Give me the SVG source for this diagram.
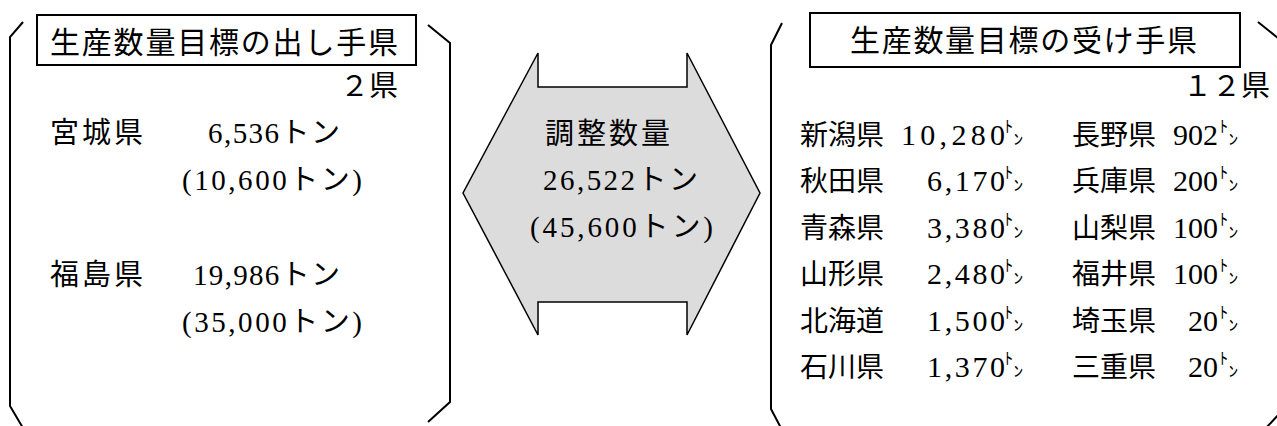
<svg xmlns="http://www.w3.org/2000/svg" width="1277" height="426" viewBox="0 0 1277 426">
<style>
text{font-family:"Liberation Serif","Noto Sans CJK JP",serif;fill:#000;font-size:29px}
.t{font-size:30px}
.r{font-size:28px}
.n{font-size:30px;text-anchor:end}
.br{fill:none;stroke:#000;stroke-width:2}
.box{fill:#fff;stroke:#000;stroke-width:2}
.ar{fill:#dcdcdc;stroke:#000;stroke-width:1.5;stroke-linejoin:miter}
.e{text-anchor:end}
.ton{font-family:"Noto Sans CJK JP",sans-serif;font-size:32px}
</style>
<rect width="1277" height="426" fill="#fff"/>
<g id="senders">
<path class="br" d="M23,22 L10,37 L10,406 L23,428"/>
<path class="br" d="M428,25 L450,43 L450,402 L428,422"/>
<rect class="box" x="37" y="15" width="379" height="50"/>
<text class="t" x="50" y="53" textLength="348" lengthAdjust="spacing">生産数量目標の出し手県</text>
<text class="e" x="398" y="96">２県</text>
<text x="50" y="143" textLength="93" lengthAdjust="spacing">宮城県</text>
<text x="208" y="143" textLength="132" lengthAdjust="spacing">6,536トン</text>
<text x="182" y="190" textLength="180" lengthAdjust="spacing">(10,600トン)</text>
<text x="50" y="285" textLength="93" lengthAdjust="spacing">福島県</text>
<text x="193" y="285" textLength="147" lengthAdjust="spacing">19,986トン</text>
<text x="182" y="332" textLength="180" lengthAdjust="spacing">(35,000トン)</text>
</g>
<g id="adjust">
<polygon class="ar" points="538,53 538,87 687,87 687,53 760,193 687,335 687,302 538,302 538,335 463,193"/>
<text x="545" y="144" textLength="125" lengthAdjust="spacing">調整数量</text>
<text x="543" y="190" textLength="155" lengthAdjust="spacing">26,522トン</text>
<text x="530" y="237" textLength="183" lengthAdjust="spacing">(45,600トン)</text>
</g>
<g id="receivers">
<path class="br" d="M782,23 L771,45 L771,409 L781,428"/>
<path class="br" d="M1258,22 L1283,42 L1283,410 L1264,430"/>
<rect class="box" x="810" y="13" width="430" height="54"/>
<text class="t" x="850" y="51" textLength="347" lengthAdjust="spacing">生産数量目標の受け手県</text>
<text class="e" x="1270" y="96">１２県</text>
<g id="left-col">
<text class="r" x="800" y="145">新潟県</text>
<text class="n" x="1005" y="145" textLength="104" lengthAdjust="spacing">10,280</text><text class="ton" transform="translate(1004,143) scale(0.6,0.9)">㌧</text>
<text class="r" x="800" y="191">秋田県</text>
<text class="n" x="1005" y="191" textLength="78" lengthAdjust="spacing">6,170</text><text class="ton" transform="translate(1004,189) scale(0.6,0.9)">㌧</text>
<text class="r" x="800" y="238">青森県</text>
<text class="n" x="1005" y="238" textLength="78" lengthAdjust="spacing">3,380</text><text class="ton" transform="translate(1004,236) scale(0.6,0.9)">㌧</text>
<text class="r" x="800" y="284">山形県</text>
<text class="n" x="1005" y="284" textLength="78" lengthAdjust="spacing">2,480</text><text class="ton" transform="translate(1004,282) scale(0.6,0.9)">㌧</text>
<text class="r" x="800" y="331">北海道</text>
<text class="n" x="1005" y="331" textLength="78" lengthAdjust="spacing">1,500</text><text class="ton" transform="translate(1004,329) scale(0.6,0.9)">㌧</text>
<text class="r" x="800" y="377">石川県</text>
<text class="n" x="1005" y="377" textLength="78" lengthAdjust="spacing">1,370</text><text class="ton" transform="translate(1004,375) scale(0.6,0.9)">㌧</text>
</g>
<g id="right-col">
<text class="r" x="1072" y="145">長野県</text>
<text class="n" x="1218" y="145">902</text><text class="ton" transform="translate(1219,143) scale(0.6,0.9)">㌧</text>
<text class="r" x="1072" y="191">兵庫県</text>
<text class="n" x="1218" y="191">200</text><text class="ton" transform="translate(1219,189) scale(0.6,0.9)">㌧</text>
<text class="r" x="1072" y="238">山梨県</text>
<text class="n" x="1218" y="238">100</text><text class="ton" transform="translate(1219,236) scale(0.6,0.9)">㌧</text>
<text class="r" x="1072" y="284">福井県</text>
<text class="n" x="1218" y="284">100</text><text class="ton" transform="translate(1219,282) scale(0.6,0.9)">㌧</text>
<text class="r" x="1072" y="331">埼玉県</text>
<text class="n" x="1218" y="331">20</text><text class="ton" transform="translate(1219,329) scale(0.6,0.9)">㌧</text>
<text class="r" x="1072" y="377">三重県</text>
<text class="n" x="1218" y="377">20</text><text class="ton" transform="translate(1219,375) scale(0.6,0.9)">㌧</text>
</g>
</g>
</svg>
